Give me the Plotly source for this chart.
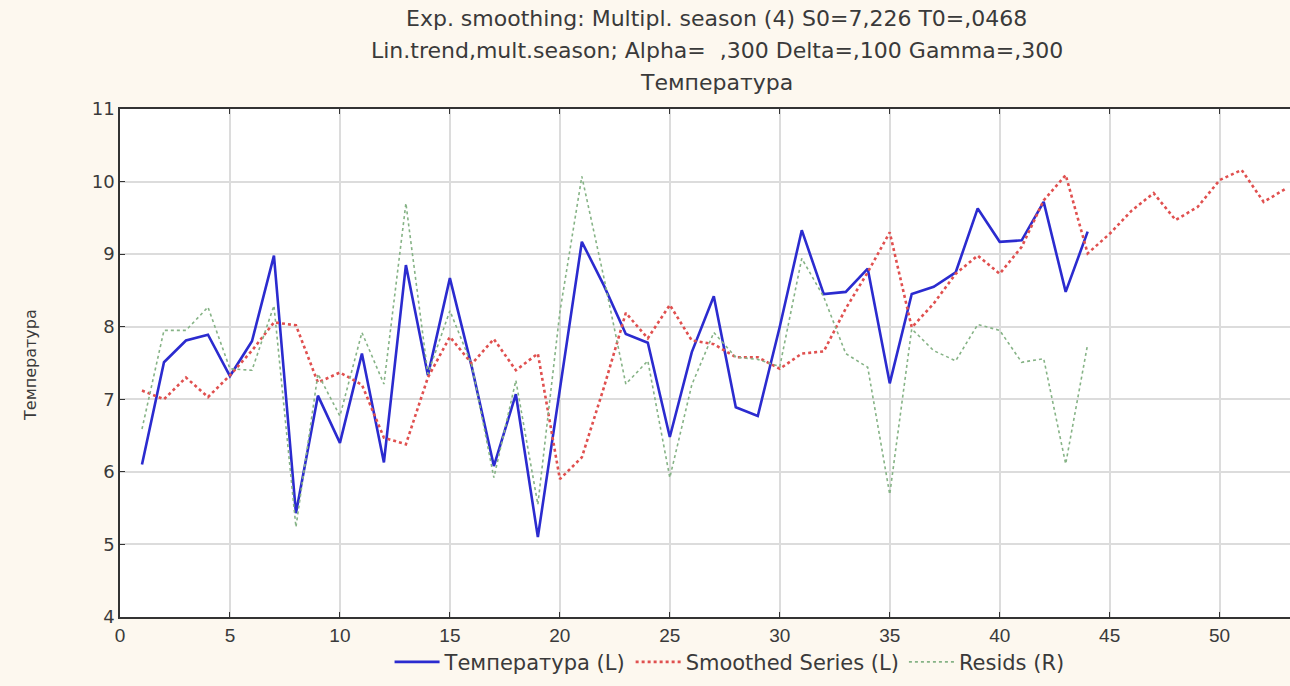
import plotly.graph_objects as go

# ---- data ----
t_obs = list(range(1, 45))
temperature = [6.10, 7.51, 7.81, 7.89, 7.32, 7.80, 8.98, 5.43, 7.05, 6.40,
               7.63, 6.13, 8.85, 7.33, 8.67, 7.44, 6.08, 7.07, 5.10, 7.16,
               9.17, 8.57, 7.90, 7.78, 6.48, 7.65, 8.42, 6.89, 6.77, 8.00,
               9.33, 8.45, 8.48, 8.80, 7.22, 8.45, 8.55, 8.75, 9.63, 9.17,
               9.19, 9.72, 8.48, 9.31]

t_smooth = list(range(1, 54))
smoothed = [7.12, 7.00, 7.30, 7.03, 7.33, 7.67, 8.06, 8.02, 7.23, 7.37,
            7.20, 6.47, 6.38, 7.30, 7.86, 7.49, 7.83, 7.40, 7.63, 5.90,
            6.20, 7.16, 8.19, 7.84, 8.30, 7.81, 7.76, 7.58, 7.58, 7.42,
            7.63, 7.66, 8.25, 8.75, 9.30, 7.99, 8.32, 8.73, 8.98, 8.73,
            9.10, 9.74, 10.09, 9.01, 9.28, 9.60, 9.84, 9.47, 9.65, 10.02,
            10.16, 9.72, 9.90]

resids = [6.59, 7.95, 7.95, 8.27, 7.42, 7.40, 8.29, 5.24, 7.35, 6.77,
          7.92, 7.21, 9.70, 7.35, 8.22, 7.47, 5.92, 7.26, 5.55, 8.20,
          10.07, 8.68, 7.21, 7.53, 5.92, 7.20, 7.92, 7.58, 7.55, 7.45,
          8.94, 8.41, 7.63, 7.44, 5.69, 7.97, 7.67, 7.53, 8.03, 7.95,
          7.51, 7.56, 6.11, 7.76]

x_ticks = [0, 5, 10, 15, 20, 25, 30, 35, 40, 45, 50]
y_ticks = [4, 5, 6, 7, 8, 9, 10, 11]

title_lines = ["Exp. smoothing: Multipl. season (4) S0=7,226 T0=,0468",
               "Lin.trend,mult.season; Alpha=  ,300 Delta=,100 Gamma=,300",
               "Температура"]
series_names = ["Температура (L)", "Smoothed Series (L)", "Resids (R)"]
y_label = "Температура"

FONT = "DejaVu Sans, Liberation Sans, Arial, sans-serif"
TICKFONT = "Liberation Sans, Arial, sans-serif"
TXT = "#3a3a3a"
BG = "#fdf8ef"

fig = go.Figure()
fig.add_trace(go.Scatter(x=t_obs, y=temperature, mode="lines", name=series_names[0],
                         line=dict(color="#2b2bcf", width=2.6)))
fig.add_trace(go.Scatter(x=t_smooth, y=smoothed, mode="lines", name=series_names[1],
                         line=dict(color="#e0504f", width=2.6, dash="dot")))
fig.add_trace(go.Scatter(x=t_obs, y=resids, mode="lines", name=series_names[2],
                         line=dict(color="#86b386", width=1.6, dash="dot"), yaxis="y2"))

fig.update_layout(
    width=1290, height=686,
    paper_bgcolor=BG, plot_bgcolor="#ffffff",
    margin=dict(l=120, r=0, t=109, b=69),
    font=dict(family=FONT, color=TXT),
    xaxis=dict(range=[0, 53.2], tickvals=x_ticks, ticks="inside", ticklen=5,
               tickcolor="#333", showline=True, linecolor="#333", linewidth=1.5,
               mirror="ticks", showgrid=True, gridcolor="#dcdcdc", gridwidth=2,
               zeroline=False, tickfont=dict(size=19, family=TICKFONT, color=TXT)),
    yaxis=dict(range=[4, 11], tickvals=y_ticks, ticks="inside", ticklen=5,
               tickcolor="#333", showline=True, linecolor="#333", linewidth=1.5,
               showgrid=True, gridcolor="#dcdcdc", gridwidth=2, zeroline=False,
               tickfont=dict(size=18, family=FONT, color=TXT)),
    yaxis2=dict(range=[4, 11], overlaying="y", side="right", showticklabels=False,
                showgrid=False, zeroline=False, showline=False, ticks=""),
    showlegend=True,
    legend=dict(orientation="h", x=0.521, xanchor="center", y=-0.089, yanchor="middle",
                bgcolor="rgba(0,0,0,0)", font=dict(size=21, family=FONT, color=TXT),
                itemwidth=45),
)

title_y = [1.179, 1.116, 1.053]
for txt, yy in zip(title_lines, title_y):
    fig.add_annotation(text=txt, x=0.510, y=yy, xref="paper", yref="paper",
                       xanchor="center", yanchor="middle", showarrow=False,
                       font=dict(size=22, family=FONT, color=TXT))

fig.add_annotation(text=y_label, x=-0.077, y=0.496, xref="paper", yref="paper",
                   textangle=-90, xanchor="center", yanchor="middle", showarrow=False,
                   font=dict(size=16, family=FONT, color=TXT))

fig.write_html(
    "out.html",
    config={"displayModeBar": False},
    post_script=("document.body.style.margin='0';"
                 "document.body.style.background='" + BG + "';"
                 "document.documentElement.style.background='" + BG + "';"),
)
